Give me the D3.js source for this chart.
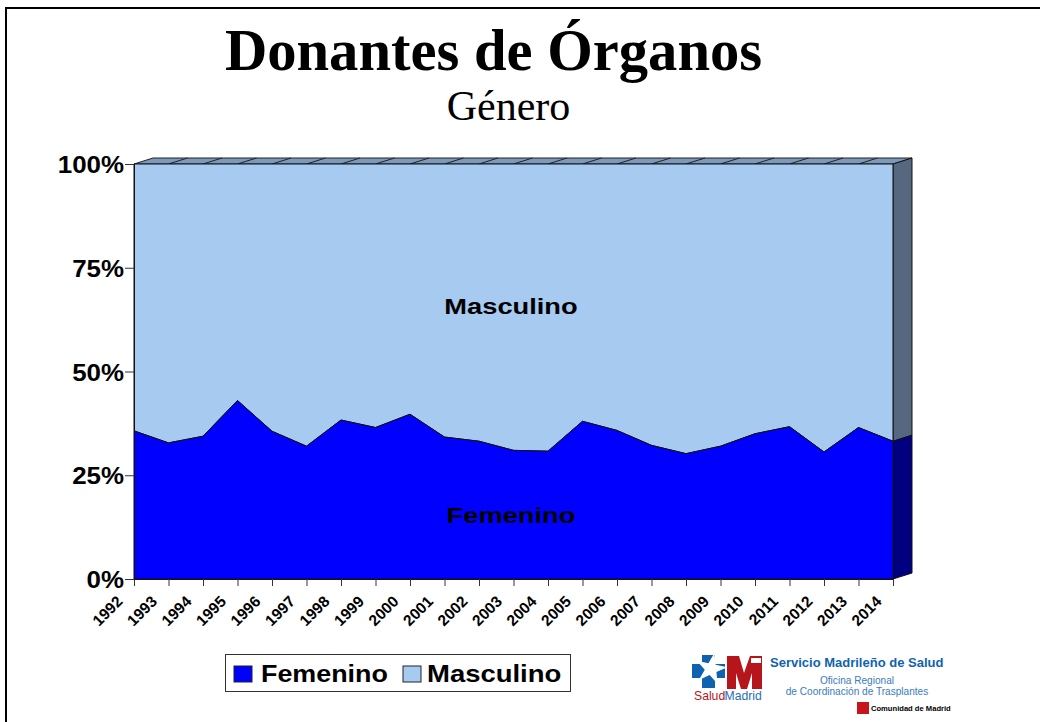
<!DOCTYPE html>
<html>
<head>
<meta charset="utf-8">
<script src="https://cdn.jsdelivr.net/npm/d3@7"></script>
<style>
  html, body { margin: 0; padding: 0; background: #fff; overflow: hidden; }
  text { font-family: "Liberation Sans", Arial, sans-serif; fill: #000; }
  .serif { font-family: "Liberation Serif", "Times New Roman", serif; }
</style>
</head>
<body>
<script>
// data
const years = ["1992","1993","1994","1995","1996","1997","1998","1999","2000","2001","2002","2003","2004","2005","2006","2007","2008","2009","2010","2011","2012","2013","2014"];
const femenino = [35.7,32.8,34.4,43,35.6,32,38.3,36.5,39.7,34.2,33.2,31,30.8,38,35.8,32.2,30.2,32,35,36.7,30.6,36.5,33.2];
const masculino = [64.3,67.2,65.6,57,64.4,68,61.7,63.5,60.3,65.8,66.8,69,69.2,62,64.2,67.8,69.8,68,65,63.3,69.4,63.5,66.8];
const y_ticks = [0,25,50,75,100];
const series_names = ["Femenino","Masculino"];

// colours
const col_fem = "#0000ff", col_masc = "#a6caf0";
const col_fem_side = "#000080", col_masc_side = "#56687f", col_top = "#7a99bb";
const logo_blue = "#0f62b0", logo_red = "#b5151b", logo_light = "#3a7cc0";

// dimensions
const width = 1040, height = 722;
const plot = {left: 134, right: 893, top: 164, bottom: 579};
const depth = {x: 19, y: -6}; // offset of the 3d back face

const svg = d3.select("body").append("svg")
    .attr("width", width)
    .attr("height", height);

// page frame
svg.append("rect").attr("x", 6).attr("y", 8).attr("width", 1040).attr("height", 800)
    .attr("fill", "none").attr("stroke", "#000").attr("stroke-width", 2);

// titles
svg.append("text").attr("class", "serif").attr("x", 493.5).attr("y", 70)
    .attr("text-anchor", "middle").attr("font-size", 58.6).attr("font-weight", "bold").text("Donantes de Órganos");
svg.append("text").attr("class", "serif").attr("x", 508.5).attr("y", 120)
    .attr("text-anchor", "middle").attr("font-size", 42).text("Género");

// scales
const x = d3.scalePoint().domain(years).range([plot.left, plot.right]);
const y = d3.scaleLinear().domain([0, 100]).range([plot.bottom, plot.top]);

const last = years[years.length - 1];
const poly = pts => pts.map(p => p.join(",")).join(" ");

// top face, split per year like the original
svg.append("polygon")
    .attr("points", poly([[x(years[0]), y(100)], [x(years[0]) + depth.x, y(100) + depth.y], [x(last) + depth.x, y(100) + depth.y], [x(last), y(100)]]))
    .attr("fill", col_top).attr("stroke", "#222").attr("stroke-width", 1);
svg.selectAll(".top_tick").data(years.slice(1, -1)).enter().append("line")
    .attr("x1", d => x(d)).attr("y1", y(100))
    .attr("x2", d => x(d) + depth.x).attr("y2", y(100) + depth.y)
    .attr("stroke", "#222");

// right side faces
const side_fem = femenino[femenino.length - 1];
svg.append("polygon")
    .attr("points", poly([[x(last), y(100)], [x(last) + depth.x, y(100) + depth.y], [x(last) + depth.x, y(side_fem) + depth.y], [x(last), y(side_fem)]]))
    .attr("fill", col_masc_side).attr("stroke", "#111");
svg.append("polygon")
    .attr("points", poly([[x(last), y(side_fem)], [x(last) + depth.x, y(side_fem) + depth.y], [x(last) + depth.x, y(0) + depth.y], [x(last), y(0)]]))
    .attr("fill", col_fem_side).attr("stroke", "#111");

// areas
const stack = years.map((d, i) => ({year: d, fem: femenino[i], masc: masculino[i]}));
const area_fem = d3.area().x(d => x(d.year)).y0(y(0)).y1(d => y(d.fem));
const area_masc = d3.area().x(d => x(d.year)).y0(d => y(d.fem)).y1(d => y(d.fem + d.masc));

svg.append("path").datum(stack).attr("d", area_masc).attr("fill", col_masc).attr("stroke", "#111").attr("stroke-width", 1);
svg.append("path").datum(stack).attr("d", area_fem).attr("fill", col_fem).attr("stroke", "#111").attr("stroke-width", 1);

// axes
const xAxis = d3.axisBottom(x).tickSize(7).tickFormat("");
const gx = svg.append("g").attr("transform", "translate(0," + plot.bottom + ")").call(xAxis);
const yAxis = d3.axisLeft(y).tickValues(y_ticks).tickSize(9).tickFormat("");
const gy = svg.append("g").attr("transform", "translate(" + plot.left + ",0)").call(yAxis);
[gx, gy].forEach(g => {
    g.select(".domain").attr("stroke", "#111");
    g.selectAll(".tick line").attr("stroke", "#333");
});

// tick labels
svg.selectAll(".x_label").data(years).enter().append("text")
    .attr("text-anchor", "end")
    .attr("font-size", 15.5).attr("font-weight", "bold")
    .attr("transform", d => "translate(" + (x(d) - 10.5) + ",602.5) rotate(-45)")
    .text(d => d);
svg.selectAll(".y_label").data(y_ticks).enter().append("text")
    .attr("text-anchor", "end").attr("font-size", 24).attr("font-weight", "bold")
    .attr("transform", d => "translate(124," + (y(d) + 9) + ") scale(1.08,1)")
    .text(d => d + "%");

// labels on the areas, the original font is wider than Liberation
svg.append("text").attr("text-anchor", "middle").attr("transform", "translate(511,314) scale(1.24,1)")
    .attr("font-size", 22).attr("font-weight", "bold").text("Masculino");
svg.append("text").attr("text-anchor", "middle").attr("transform", "translate(511,523) scale(1.24,1)")
    .attr("font-size", 22).attr("font-weight", "bold").text("Femenino");

// legend
svg.append("rect").attr("x", 225.5).attr("y", 654.5).attr("width", 345).attr("height", 37)
    .attr("fill", "#fff").attr("stroke", "#333").attr("stroke-width", 1);
const legend_x = [234, 403];
const legend_text_x = [261, 427];
const legend_stretch = [1.12, 1.145];
series_names.forEach((name, i) => {
    svg.append("rect").attr("x", legend_x[i]).attr("y", 666).attr("width", 18).attr("height", 16)
        .attr("fill", i == 0 ? col_fem : col_masc).attr("stroke", "#222");
    svg.append("text").attr("transform", "translate(" + legend_text_x[i] + ",682) scale(" + legend_stretch[i] + ",1)")
        .attr("font-size", 24).attr("font-weight", "bold").text(name);
});

// logo
const logo = svg.append("g");
logo.append("path").attr("d", "M702 655h13v9h10v14h-10v10h-13v-10h-10v-14h10z").style("fill", logo_blue);
logo.append("path").attr("d", d3.symbol(d3.symbolStar, 300)()).attr("transform", "translate(711,669) rotate(12)").style("fill", "#fff");
logo.append("path").attr("d", "M727 656h12l5 17 6-17h12v33h-10v-16l-5 16h-6l-5-16v16h-9z").style("fill", logo_red);
logo.append("rect").attr("x", 751).attr("y", 658).attr("width", 10).attr("height", 5).style("fill", "#fff");
logo.append("text").attr("x", 694).attr("y", 700).attr("font-size", 12.2).style("fill", logo_red).text("Salud");
logo.append("text").attr("x", 724.5).attr("y", 700).attr("font-size", 12.2).style("fill", "#2a6fb5").text("Madrid");
logo.append("text").attr("x", 770).attr("y", 667).attr("font-size", 13).attr("font-weight", "bold").style("fill", logo_blue).text("Servicio Madrileño de Salud");
logo.append("text").attr("x", 857).attr("y", 684).attr("text-anchor", "middle").attr("font-size", 10.1).style("fill", logo_light).text("Oficina Regional");
logo.append("text").attr("x", 857).attr("y", 695).attr("text-anchor", "middle").attr("font-size", 10.1).style("fill", logo_light).text("de Coordinación de Trasplantes");
logo.append("rect").attr("x", 857).attr("y", 702).attr("width", 12).attr("height", 12).style("fill", "#c8141c");
logo.append("text").attr("x", 871).attr("y", 711).attr("font-size", 7.6).attr("font-weight", "bold").text("Comunidad de Madrid");
</script>
</body>
</html>
